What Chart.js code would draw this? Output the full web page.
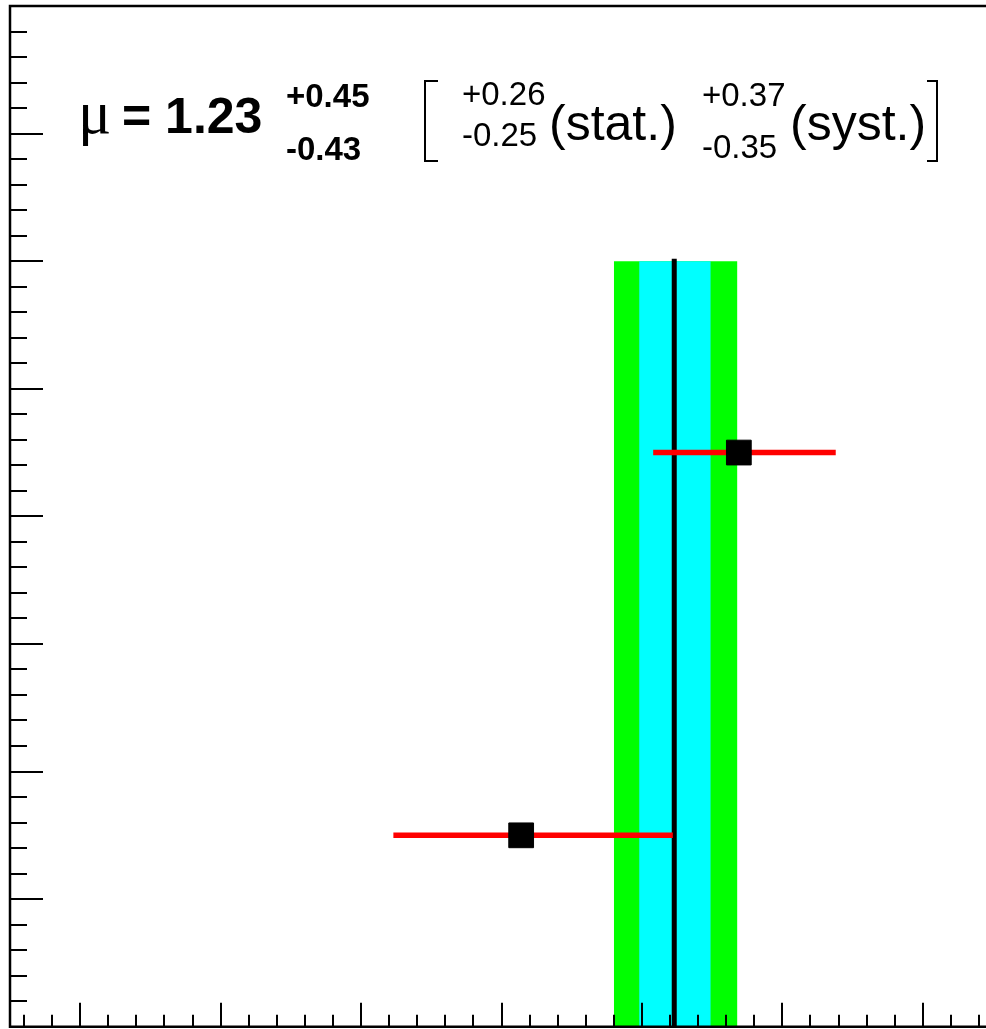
<!DOCTYPE html>
<html><head><meta charset="utf-8">
<script src="https://cdn.jsdelivr.net/npm/chart.js@4.4.0/dist/chart.umd.min.js"></script>
<style>html,body{margin:0;padding:0;background:#fff;overflow:hidden}canvas{display:block}</style>
</head><body><canvas id="c" width="986" height="1029"></canvas>
<script>
// ---- data ----
const channelY = [1.5, 4.5];
const channelMu = [0.14, 1.69];
const channelErrDown = [0.91, 0.61];
const channelErrUp = [1.08, 0.69];
const combinedMu = 1.23;
const totalErr = [0.43, 0.45];   // [down, up]
const statErr = [0.25, 0.26];
const systErr = [0.35, 0.37];
const bandY = [0, 6];
const xRange = [-3.5, 3.45];
const yRange = [0, 8];
const xTickStep = 0.2, xMajorEvery = 5;
const yTickStep = 0.2, yMajorEvery = 5;

function bandRect(lo, hi) {
  return [{x: lo, y: bandY[0]}, {x: lo, y: bandY[1]}, {x: hi, y: bandY[1]}, {x: hi, y: bandY[0]}];
}
const fmt = v => v.toFixed(2);

const datasets = [];
// markers
datasets.push({
  type: 'scatter', order: 0,
  data: channelY.map((y, i) => ({x: channelMu[i], y})),
  pointStyle: 'rect', pointRadius: 17.5, pointHoverRadius: 17.5,
  backgroundColor: '#000', borderColor: '#000', borderWidth: 1
});
// error bars
channelY.forEach((y, i) => {
  datasets.push({
    type: 'scatter', order: 1, showLine: true,
    data: [{x: channelMu[i] - channelErrDown[i], y}, {x: channelMu[i] + channelErrUp[i], y}],
    borderColor: '#ff0000', borderWidth: 5.5, pointRadius: 0, pointHoverRadius: 0, fill: false
  });
});
// combined line
datasets.push({
  type: 'scatter', order: 2, showLine: true,
  data: [{x: combinedMu, y: bandY[0]}, {x: combinedMu, y: bandY[1]}],
  borderColor: '#000', borderWidth: 5, borderCapStyle: 'square', pointRadius: 0, pointHoverRadius: 0, fill: false
});
// stat band
datasets.push({
  type: 'scatter', order: 3, showLine: true,
  data: bandRect(combinedMu - statErr[0], combinedMu + statErr[1]),
  borderWidth: 0, borderColor: 'rgba(0,0,0,0)', backgroundColor: '#00ffff',
  pointRadius: 0, pointHoverRadius: 0, fill: 'origin', tension: 0
});
// total band
datasets.push({
  type: 'scatter', order: 4, showLine: true,
  data: bandRect(combinedMu - totalErr[0], combinedMu + totalErr[1]),
  borderWidth: 0, borderColor: 'rgba(0,0,0,0)', backgroundColor: '#00ff00',
  pointRadius: 0, pointHoverRadius: 0, fill: 'origin', tension: 0
});

const framePlugin = {
  id: 'frame',
  afterDatasetsDraw(chart) {
    const ctx = chart.ctx, xs = chart.scales.x, ys = chart.scales.y, a = chart.chartArea;
    ctx.save();
    ctx.strokeStyle = '#000';
    ctx.lineWidth = 2;
    ctx.beginPath();
    // x ticks along bottom, pointing up
    const kx0 = Math.ceil(xRange[0] / xTickStep - 1e-6), kx1 = Math.floor(xRange[1] / xTickStep + 1e-6);
    for (let k = kx0; k <= kx1; k++) {
      const px = Math.round(xs.getPixelForValue(k * xTickStep));
      const len = (k % xMajorEvery === 0) ? 24 : 12;
      ctx.moveTo(px, a.bottom); ctx.lineTo(px, a.bottom - len);
    }
    // y ticks along left, pointing right
    const ky0 = Math.ceil(yRange[0] / yTickStep - 1e-6), ky1 = Math.floor(yRange[1] / yTickStep + 1e-6);
    for (let k = ky0; k <= ky1; k++) {
      const py = Math.round(ys.getPixelForValue(k * yTickStep));
      const len = (k % yMajorEvery === 0) ? 33 : 17;
      ctx.moveTo(a.left, py); ctx.lineTo(a.left + len, py);
    }
    ctx.stroke();
    // frame
    ctx.lineWidth = 2.5;
    ctx.beginPath();
    ctx.moveTo(a.right + 2, a.top); ctx.lineTo(a.left, a.top); ctx.lineTo(a.left, a.bottom); ctx.lineTo(a.right + 2, a.bottom);
    ctx.stroke();
    ctx.restore();
  },
  afterDraw(chart) {
    const ctx = chart.ctx;
    ctx.save();
    ctx.fillStyle = '#000';
    ctx.textBaseline = 'alphabetic';
    ctx.textAlign = 'left';
    ctx.font = '62px "Liberation Serif"';
    ctx.fillText('μ', 78, 133);
    ctx.font = 'bold 50px "Liberation Sans"';
    ctx.fillText('= ' + fmt(combinedMu), 122, 133);
    ctx.font = 'bold 33px "Liberation Sans"';
    ctx.fillText('+' + fmt(totalErr[1]), 286, 107);
    ctx.fillText('-' + fmt(totalErr[0]), 286, 160);
    ctx.font = '33px "Liberation Sans"';
    ctx.fillText('+' + fmt(statErr[1]), 462, 105);
    ctx.fillText('-' + fmt(statErr[0]), 462, 146);
    ctx.fillText('+' + fmt(systErr[1]), 702, 106);
    ctx.fillText('-' + fmt(systErr[0]), 702, 158);
    ctx.font = '50px "Liberation Sans"';
    ctx.fillText('(stat.)', 549, 140);
    ctx.fillText('(syst.)', 790, 140);
    // brackets
    ctx.strokeStyle = '#000';
    ctx.lineWidth = 2;
    ctx.beginPath();
    ctx.moveTo(438, 81); ctx.lineTo(425, 81); ctx.lineTo(425, 161); ctx.lineTo(438, 161);
    ctx.moveTo(927, 81); ctx.lineTo(937, 81); ctx.lineTo(937, 161); ctx.lineTo(927, 161);
    ctx.stroke();
    ctx.restore();
  }
};

new Chart(document.getElementById('c'), {
  type: 'scatter',
  data: { datasets },
  options: {
    responsive: false,
    devicePixelRatio: 1,
    animation: false,
    events: [],
    layout: { autoPadding: false, padding: { left: 10, top: 6, right: 0, bottom: 2.3 } },
    plugins: { legend: { display: false }, tooltip: { enabled: false }, title: { display: false } },
    scales: {
      x: { type: 'linear', min: xRange[0], max: xRange[1], display: false },
      y: { type: 'linear', min: yRange[0], max: yRange[1], display: false }
    }
  },
  plugins: [framePlugin]
});
</script>
</body></html>
